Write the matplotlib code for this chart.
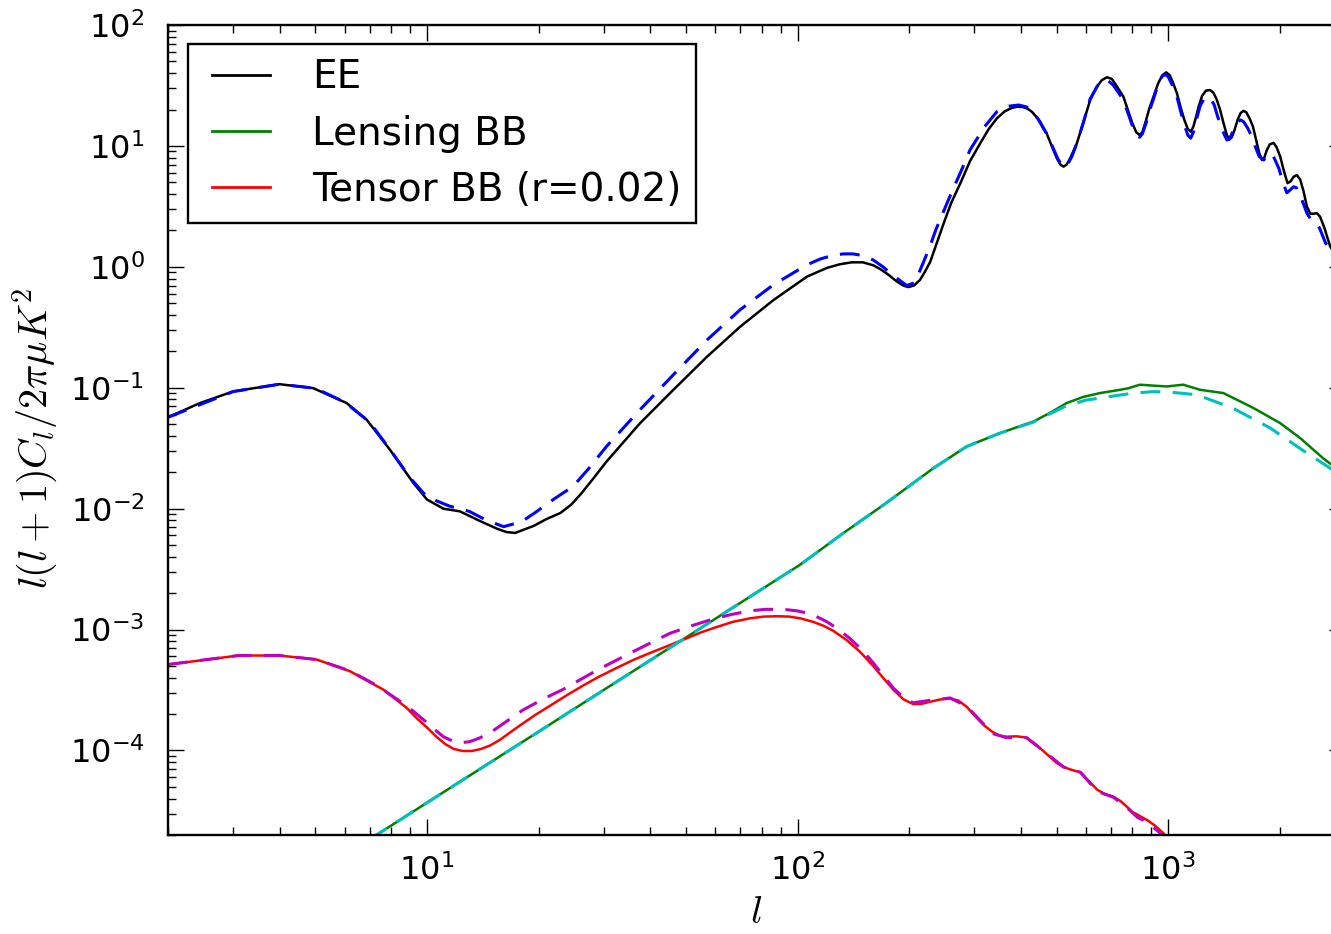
import math
import numpy as np
import matplotlib
matplotlib.use("Agg")
import matplotlib.pyplot as plt
from matplotlib.ticker import FixedLocator, FuncFormatter, NullFormatter
from matplotlib.legend_handler import HandlerLine2D

# ---- EE spectrum (solid) and its alternative model (dashed) ----
ee_l = [2, 2.44, 3.0, 4.0, 4.93, 6.07, 6.87, 7.94, 9.19, 10, 11.07, 12.27, 13.9,
        15.5, 16.4, 17.3, 19.4, 21.0, 22.9, 24.5, 26.0, 28.0, 30.5, 37.6, 46.2,
        56.9, 70, 86, 106, 120, 130, 140, 150, 160, 167, 175, 185, 193, 199, 206,
        214, 221, 228, 238, 248, 260, 275, 292, 311, 328, 345, 362, 378, 391, 405,
        418, 430, 445, 460, 471, 485, 500, 512, 522, 532, 545, 567, 590, 616, 640,
        662, 684, 705, 725, 757, 780, 800, 820, 837, 852, 870, 890, 913, 940, 965,
        988, 1010, 1030, 1056, 1080, 1105, 1130, 1152, 1170, 1190, 1208, 1235,
        1265, 1298, 1325, 1350, 1381, 1410, 1440, 1463, 1485, 1510, 1540, 1570,
        1597, 1625, 1660, 1693, 1730, 1760, 1791, 1815, 1845, 1880, 1925, 1960,
        2006, 2050, 2099, 2140, 2180, 2224, 2270, 2320, 2368, 2420, 2470, 2518,
        2570, 2640, 2737, 3000]
ee_v = [0.057, 0.0747, 0.0933, 0.107, 0.0993, 0.0747, 0.0545, 0.0308, 0.0163,
        0.0119, 0.0100, 0.0095, 0.0079, 0.0068, 0.0064, 0.0063, 0.0072, 0.0082,
        0.0092, 0.0108, 0.0132, 0.0175, 0.0245, 0.051, 0.096, 0.18, 0.32, 0.53,
        0.83, 0.98, 1.05, 1.09, 1.09, 1.03, 0.96, 0.87, 0.76, 0.70, 0.68, 0.70,
        0.78, 0.92, 1.1, 1.6, 2.3, 3.4, 4.92, 7.5, 10.5, 13.8, 16.9, 19.3, 20.6,
        21.1, 21.0, 20.3, 19.0, 16.8, 14.0, 12.5, 10.0, 8.0, 7.0, 6.75, 7.0, 8.0,
        10.5, 15.5, 24.0, 30.5, 35.0, 37.0, 35.8, 31.5, 25.6, 19.5, 15.5, 13.0,
        12.3, 13.0, 16.0, 20.5, 25.6, 33.0, 38.5, 40.6, 38.5, 33.5, 27.3, 21.0,
        16.5, 13.8, 13.1, 14.5, 17.5, 21.1, 26.0, 28.7, 29.0, 27.5, 24.5, 19.9,
        15.5, 12.3, 11.3, 11.8, 13.5, 16.5, 18.8, 19.5, 19.0, 16.8, 14.5, 11.0,
        8.8, 7.65, 7.9, 9.2, 10.3, 10.6, 9.8, 8.17, 6.3, 4.92, 5.1, 5.55, 5.75,
        5.3, 4.2, 3.15, 2.75, 2.75, 2.78, 2.6, 2.1, 1.47, 0.95]

ee_alt_l = [2, 3, 4, 5, 6, 7, 8, 9, 10, 11.5, 13, 14.5, 16.1, 18, 19.8, 22.0,
            24.8, 27.5, 30.5, 37.6, 46.2, 57, 70, 86, 106, 115, 125, 133, 141,
            150, 160, 170, 178, 188, 197, 207, 218, 228, 236, 248, 262, 275, 292,
            320, 345, 370, 395, 415, 430, 450, 471, 490, 505, 522, 535, 550, 567,
            590, 616, 645, 670, 690, 710, 735, 757, 780, 800, 820, 837, 852, 875,
            895, 913, 940, 962, 980, 1000, 1025, 1056, 1080, 1105, 1130, 1150, 1170,
            1195, 1220, 1250, 1270, 1300, 1330, 1360, 1400, 1440, 1465, 1500, 1540,
            1570, 1600, 1640, 1680, 1720, 1760, 1810, 1850, 1885, 1920, 1990, 2040,
            2090, 2130, 2180, 2220, 2280, 2368, 2440, 2500, 2560, 2660, 3000]
ee_alt_v = [0.057, 0.093, 0.107, 0.099, 0.076, 0.052, 0.030, 0.018, 0.0125,
            0.0105, 0.0095, 0.0080, 0.0071, 0.0078, 0.0095, 0.0120, 0.0153, 0.022,
            0.0327, 0.066, 0.128, 0.249, 0.442, 0.71, 1.04, 1.16, 1.25, 1.28, 1.28,
            1.24, 1.14, 1.0, 0.887, 0.78, 0.70, 0.74, 1.07, 1.5, 2.02, 2.9, 4.32,
            6.0, 9.27, 14.5, 19.2, 21.3, 21.8, 21.0, 19.5, 16.0, 12.5, 9.5, 7.7,
            6.7, 7.0, 8.2, 10.5, 15.5, 24.5, 31.5, 35.1, 34.5, 32.0, 27.5, 24.0,
            18.5, 14.8, 12.4, 11.8, 12.6, 16.0, 20.5, 24.5, 32.5, 37.5, 39.0, 37.5,
            32.0, 25.5, 19.5, 15.0, 12.3, 11.6, 13.0, 17.0, 21.5, 24.5, 25.6, 24.5,
            22.0, 17.5, 13.5, 11.2, 11.5, 13.5, 15.8, 16.4, 15.8, 14.0, 12.0, 9.8,
            8.2, 7.65, 8.3, 8.7, 8.3, 6.5, 5.0, 4.1, 4.3, 4.6, 4.5, 3.8, 2.78, 2.4,
            2.3, 2.1, 1.57, 0.95]

# ---- lensing B-modes ----
lens_l = [7, 10, 20, 40, 70, 101.6, 133, 171, 233, 286, 352, 433, 480, 532, 590,
          655, 726, 780, 839, 920, 990, 1099, 1219, 1409, 1699, 2005, 2270, 2616,
          3000]
lens_v = [1.84e-5, 3.70e-5, 1.43e-4, 5.57e-4, 1.66e-3, 3.44e-3, 6.29e-3, 0.0108,
          0.0217, 0.0327, 0.0422, 0.0526, 0.062, 0.0747, 0.084, 0.0904, 0.0951,
          0.099, 0.106, 0.104, 0.1025, 0.106, 0.0962, 0.0904, 0.068, 0.051, 0.0384,
          0.0262, 0.019]

lens_alt_l = [7, 10, 20, 40, 70, 101.6, 133, 171, 233, 286, 352, 433, 480, 532,
              600, 698, 800, 913, 1050, 1195, 1492, 1885, 2330, 2480, 3000]
lens_alt_v = [1.84e-5, 3.70e-5, 1.43e-4, 5.57e-4, 1.66e-3, 3.44e-3, 6.29e-3,
              0.0108, 0.0217, 0.0327, 0.0422, 0.0520, 0.061, 0.071, 0.079, 0.0847,
              0.090, 0.093, 0.091, 0.0875, 0.068, 0.0465, 0.0298, 0.0263, 0.018]

# ---- tensor B-modes, r = 0.02 ----
tens_l = [2, 3.1, 4, 5.04, 6.2, 7.32, 7.62, 8.8, 9.38, 10.0, 10.6, 11.2, 11.8,
          12.5, 13.2, 14.0, 14.8, 15.7, 17.5, 19.5, 21.5, 24, 26.4, 29, 32.5, 36,
          40, 44, 49.2, 55, 60.5, 67, 74.5, 81, 88, 95, 101.6, 110, 117, 124.6,
          135.6, 147, 160, 170, 181, 193, 205, 216, 228, 242, 258, 272, 286, 300,
          318, 336, 350, 365, 390, 414, 440, 471, 500, 522, 550, 580, 610, 643,
          675, 712, 745, 776, 800, 826, 850, 879, 920, 974, 1050]
tens_v = [5.14e-4, 6.1e-4, 6.1e-4, 5.65e-4, 4.52e-4, 3.41e-4, 3.19e-4, 2.26e-4,
          1.85e-4, 1.55e-4, 1.3e-4, 1.13e-4, 1.03e-4, 9.9e-5, 9.9e-5, 1.03e-4,
          1.1e-4, 1.22e-4, 1.55e-4, 1.95e-4, 2.35e-4, 2.9e-4, 3.45e-4, 4.05e-4,
          4.82e-4, 5.6e-4, 6.41e-4, 7.2e-4, 8.26e-4, 9.5e-4, 1.05e-3, 1.16e-3,
          1.24e-3, 1.28e-3, 1.29e-3, 1.28e-3, 1.24e-3, 1.16e-3, 1.08e-3, 9.8e-4,
          8.2e-4, 6.6e-4, 5.0e-4, 4.0e-4, 3.2e-4, 2.65e-4, 2.42e-4, 2.43e-4,
          2.53e-4, 2.64e-4, 2.69e-4, 2.58e-4, 2.3e-4, 1.95e-4, 1.62e-4, 1.42e-4,
          1.33e-4, 1.30e-4, 1.31e-4, 1.28e-4, 1.12e-4, 9.3e-5, 7.9e-5, 7.3e-5,
          6.9e-5, 6.6e-5, 5.6e-5, 4.75e-5, 4.35e-5, 4.15e-5, 3.8e-5, 3.4e-5,
          3.1e-5, 2.95e-5, 2.8e-5, 2.65e-5, 2.4e-5, 2.05e-5, 1.4e-5]

tens_alt_l = [2, 3.1, 4, 5.04, 6.2, 7.32, 8.8, 10.0, 10.6, 11.07, 11.7, 12.3, 13.0,
              13.8, 14.8, 16.3, 18.1, 20.5, 23.3, 28.7, 36.1, 45.2, 52, 58, 66,
              74.5, 82, 91.5, 99.5, 106, 112, 120, 128, 138, 150, 160, 170, 181,
              193, 205, 228, 258, 286, 336, 365, 414, 471, 522, 580, 643, 712, 776,
              826, 879, 974, 1050]
tens_alt_v = [5.14e-4, 6.1e-4, 6.1e-4, 5.65e-4, 4.55e-4, 3.45e-4, 2.35e-4, 1.7e-4,
              1.45e-4, 1.3e-4, 1.2e-4, 1.16e-4, 1.18e-4, 1.26e-4, 1.4e-4, 1.72e-4,
              2.15e-4, 2.65e-4, 3.2e-4, 4.6e-4, 6.6e-4, 9.3e-4, 1.08e-3, 1.2e-3,
              1.33e-3, 1.43e-3, 1.47e-3, 1.47e-3, 1.43e-3, 1.37e-3, 1.29e-3,
              1.16e-3, 1.02e-3, 8.5e-4, 6.7e-4, 5.3e-4, 4.2e-4, 3.3e-4, 2.75e-4,
              2.48e-4, 2.6e-4, 2.72e-4, 2.32e-4, 1.38e-4, 1.28e-4, 1.28e-4, 9.4e-5,
              7.3e-5, 6.6e-5, 4.6e-5, 4.1e-5, 3.35e-5, 2.8e-5, 2.55e-5, 1.95e-5,
              1.3e-5]

legend_labels = ["EE", "Lensing BB", "Tensor BB (r=0.02)"]
x_decades = [10, 100, 1000]
y_decades = [1e-4, 1e-3, 1e-2, 1e-1, 1, 10, 100]


class PaddedLineHandler(HandlerLine2D):
    """Legend line that leaves a little blank space before the sample."""

    def get_xdata(self, legend, xdescent, ydescent, width, height, fontsize):
        xdata, xmark = super().get_xdata(legend, xdescent, ydescent, width,
                                         height, fontsize)
        start = -xdescent + 0.15 * width
        return np.array([start, -xdescent + width]), xmark


fig = plt.figure(figsize=(13.31, 9.34), dpi=100)
ax = fig.add_axes([0.1262, 0.1060, 0.8843, 0.8672])

dash = (6.5, 4.0)
l1, = ax.plot(ee_l, ee_v, color="k", lw=1.8, label=legend_labels[0])
l2, = ax.plot(lens_l, lens_v, color="g", lw=1.8, label=legend_labels[1])
l3, = ax.plot(tens_l, tens_v, color="r", lw=1.8, label=legend_labels[2])
ax.plot(ee_alt_l, ee_alt_v, color="b", lw=2.2, dashes=dash)
ax.plot(lens_alt_l, lens_alt_v, color="c", lw=2.2, dashes=dash)
ax.plot(tens_alt_l, tens_alt_v, color="m", lw=2.2, dashes=dash)

ax.set_xscale("log")
ax.set_yscale("log")
ax.set_xlim(2, 3000)
ax.set_ylim(2e-5, 100)


def decade_label(val, pos):
    e = int(round(math.log10(val)))
    return r"$\mathdefault{10^{%d}}$" % e


def minor_positions(lo, hi):
    out = []
    for d in range(int(math.floor(math.log10(lo))), int(math.ceil(math.log10(hi))) + 1):
        for s in range(2, 10):
            v = s * 10.0 ** d
            if lo <= v <= hi:
                out.append(v)
    return out


ax.xaxis.set_major_locator(FixedLocator(x_decades))
ax.yaxis.set_major_locator(FixedLocator(y_decades))
ax.xaxis.set_minor_locator(FixedLocator(minor_positions(2, 3000)))
ax.yaxis.set_minor_locator(FixedLocator(minor_positions(2e-5, 100)))
for axis in (ax.xaxis, ax.yaxis):
    axis.set_major_formatter(FuncFormatter(decade_label))
    axis.set_minor_formatter(NullFormatter())

ax.tick_params(which="both", direction="in", top=True, right=True,
               labelsize=23, width=1.0)
ax.tick_params(which="major", length=11.5)
ax.tick_params(which="minor", length=5.8)
ax.tick_params(axis="x", which="major", pad=14)
ax.tick_params(axis="y", which="major", pad=17)
for sp in ax.spines.values():
    sp.set_linewidth(1.7)

ax.set_xlabel(r"$l$", fontsize=28, math_fontfamily="cm")
ax.set_ylabel(r"$l(l+1)C_l/2\pi\mu K^2$", fontsize=29, math_fontfamily="cm")
ax.xaxis.set_label_coords(0.5, -0.071)
ax.yaxis.set_label_coords(-0.092, 0.49)

leg = ax.legend(handles=[l1, l2, l3], loc="upper left",
                bbox_to_anchor=(0.017, 0.9765), borderaxespad=0, fontsize=28,
                handlelength=1.73, handletextpad=1.1, borderpad=0.37,
                labelspacing=0.47, fancybox=False, framealpha=1, edgecolor="k",
                handler_map={plt.Line2D: PaddedLineHandler()})
leg.get_frame().set_linewidth(1.7)
for h in leg.get_lines():
    h.set_linewidth(2.0)

fig.savefig("out.png", dpi=100)
